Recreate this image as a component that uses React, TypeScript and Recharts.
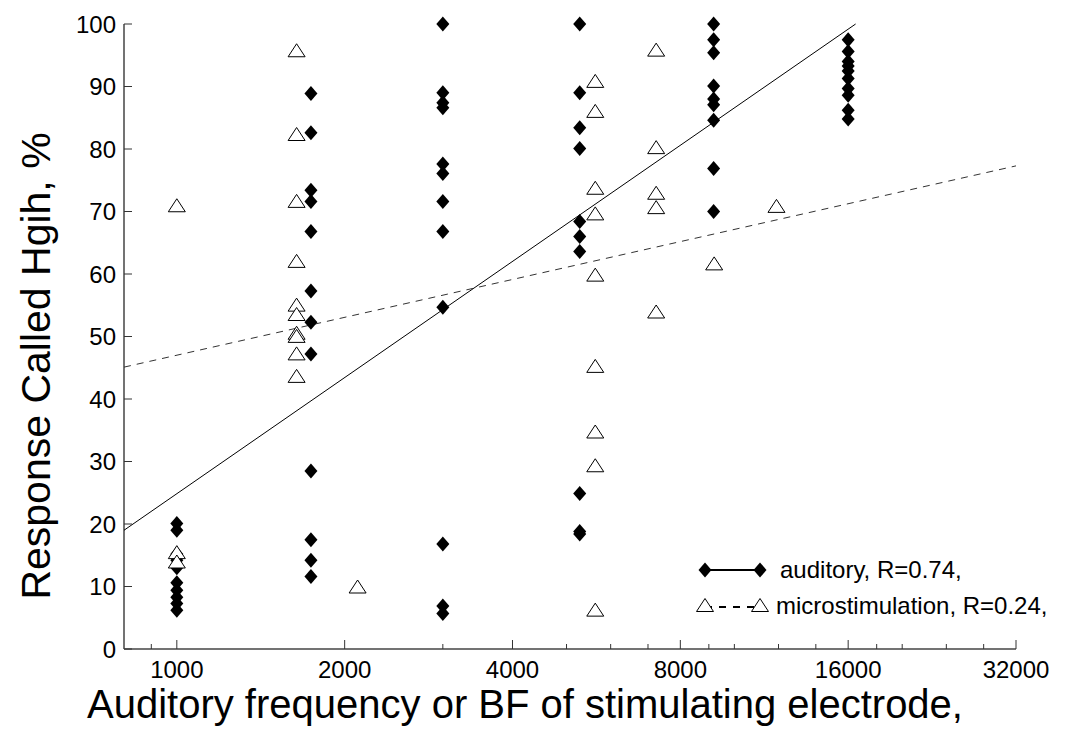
import { ScatterChart, Scatter, XAxis, YAxis, Label, Legend } from "recharts";

const FONT = "'Liberation Sans', Arial, sans-serif";

// axis ticks (log2 frequency axis, labelled octaves + unlabelled minor marks)
const majorFreqs = [1000, 2000, 4000, 8000, 16000, 32000];
const minorFreqs = [900, 3000, 5000, 6000, 7000, 9000, 10000, 12000, 14000, 18000, 20000, 24000, 28000];
const percentTicks = [0, 10, 20, 30, 40, 50, 60, 70, 80, 90, 100];

// auditory stimulation: tone frequency (Hz) and % "high" responses per session
const auditoryFreqs = [1000, 1740, 3000, 5280, 9180, 16000];
const auditoryValues = [
  [20.1, 19.0, 15.2, 14.2, 13.0, 10.6, 9.4, 8.3, 7.3, 6.2],
  [88.9, 82.6, 73.4, 71.6, 66.8, 57.3, 52.3, 47.2, 28.5, 17.5, 14.2, 11.6],
  [100, 89.0, 87.4, 86.6, 77.6, 76.1, 71.6, 66.8, 54.7, 16.8, 6.9, 5.7],
  [100, 89.0, 83.4, 80.1, 68.4, 66.0, 63.6, 24.9, 18.8, 18.4],
  [100, 97.5, 95.4, 90.1, 88.0, 87.1, 84.6, 76.9, 70.0],
  [97.5, 95.6, 94.0, 93.3, 92.5, 91.3, 89.7, 88.6, 86.2, 84.8],
];

// microstimulation: BF of stimulating electrode (Hz) and % "high" responses
const microFreqs = [1000, 1640, 2110, 5630, 7240, 9200, 11900];
const microValues = [
  [71.0, 15.5, 14.0],
  [95.8, 82.4, 71.7, 62.1, 55.1, 53.6, 50.6, 50.1, 47.3, 43.7],
  [10.0],
  [90.9, 86.1, 73.8, 69.7, 59.9, 45.3, 34.8, 29.4, 6.3],
  [95.9, 80.3, 73.0, 70.7, 54.0],
  [61.7],
  [70.9],
];

// regression lines (end points on the log-frequency axis)
const auditoryFit = [
  { freq: 804, pct: 19.0 },
  { freq: 16500, pct: 100 },
];
const microFit = [
  { freq: 804, pct: 45.1 },
  { freq: 32000, pct: 77.3 },
];

const toPoints = (freqs: number[], values: number[][]) =>
  freqs.flatMap((freq, i) => values[i].map((pct) => ({ freq, pct })));

const auditoryPoints = toPoints(auditoryFreqs, auditoryValues);
const microPoints = toPoints(microFreqs, microValues);

const Diamond = ({ cx, cy }: any) => (
  <polygon
    points={`${cx},${cy - 7.5} ${cx + 6.5},${cy} ${cx},${cy + 7.5} ${cx - 6.5},${cy}`}
    fill="#000"
  />
);

const Triangle = ({ cx, cy }: any) => (
  <polygon
    points={`${cx},${cy - 6.5} ${cx + 8.5},${cy + 6.5} ${cx - 8.5},${cy + 6.5}`}
    fill="#fff"
    stroke="#000"
    strokeWidth={1}
  />
);

const NoDot = () => <g />;

const FreqTick = ({ x, y, payload }: any) => {
  const major = majorFreqs.includes(payload.value);
  return (
    <g>
      <line x1={x} x2={x} y1={y} y2={y - (major ? 9 : 5)} stroke="#333" strokeWidth={1} />
      {major && (
        <text x={x} y={y + 29} textAnchor="middle" fontFamily={FONT} fontSize={24} fill="#000">
          {payload.value}
        </text>
      )}
    </g>
  );
};

const PercentTick = ({ x, y, payload }: any) => (
  <g>
    <line x1={x} x2={x + 8} y1={y} y2={y} stroke="#333" strokeWidth={1} />
    <text x={x - 8} y={y} dy="0.36em" textAnchor="end" fontFamily={FONT} fontSize={24} fill="#000">
      {payload.value}
    </text>
  </g>
);

const XTitle = () => (
  <text x={517} y={710} textAnchor="middle" fontFamily={FONT} fontSize={40} fill="#000">
    Auditory frequency or BF of stimulating electrode,
  </text>
);

const YTitle = () => (
  <text
    x={0}
    y={0}
    transform="translate(42, 358) rotate(-90)"
    textAnchor="middle"
    fontFamily={FONT}
    fontSize={41}
    fill="#000"
  >
    Response Called Hgih, %
  </text>
);

const LegendBox = () => (
  <svg width={370} height={72} style={{ display: "block", overflow: "visible" }}>
    <line x1={15} x2={70} y1={20} y2={20} stroke="#000" strokeWidth={2} />
    <Diamond cx={15} cy={20} />
    <Diamond cx={70} cy={20} />
    <text x={90} y={28} fontFamily={FONT} fontSize={24} fill="#000">
      auditory, R=0.74,
    </text>
    <line x1={15} x2={70} y1={57} y2={57} stroke="#000" strokeWidth={2} strokeDasharray="7 7" />
    <Triangle cx={15} cy={55} />
    <Triangle cx={70} cy={55} />
    <text x={86} y={64} fontFamily={FONT} fontSize={24} fill="#000">
      microstimulation, R=0.24,
    </text>
  </svg>
);

export default function App() {
  return (
    <ScatterChart width={1050} height={720} margin={{ top: 16, right: 42, bottom: 39, left: 56 }}>
      <XAxis
        dataKey="freq"
        type="number"
        scale="log"
        domain={[804, 32000]}
        allowDataOverflow
        ticks={[...majorFreqs, ...minorFreqs].sort((a, b) => a - b)}
        interval={0}
        tickSize={0}
        tickMargin={0}
        tickLine={false}
        tick={FreqTick}
        axisLine={{ stroke: "#444", strokeWidth: 1.5 }}
        height={40}
      >
        <Label content={XTitle} />
      </XAxis>
      <YAxis
        dataKey="pct"
        type="number"
        domain={[0, 100]}
        ticks={percentTicks}
        interval={0}
        tickSize={0}
        tickMargin={0}
        tickLine={false}
        tick={PercentTick}
        axisLine={{ stroke: "#444", strokeWidth: 1.5 }}
        width={60}
      >
        <Label content={YTitle} />
      </YAxis>
      <Legend
        layout="vertical"
        align="center"
        verticalAlign="middle"
        content={LegendBox}
        wrapperStyle={{ left: 682, top: 542, width: 370 }}
      />
      <Scatter data={auditoryFit} line={{ stroke: "#000", strokeWidth: 1 }} shape={NoDot} isAnimationActive={false} />
      <Scatter
        data={microFit}
        line={{ stroke: "#333", strokeWidth: 1, strokeDasharray: "7 6" }}
        shape={NoDot}
        isAnimationActive={false}
      />
      <Scatter data={auditoryPoints} shape={Diamond} isAnimationActive={false} />
      <Scatter data={microPoints} shape={Triangle} isAnimationActive={false} />
    </ScatterChart>
  );
}
